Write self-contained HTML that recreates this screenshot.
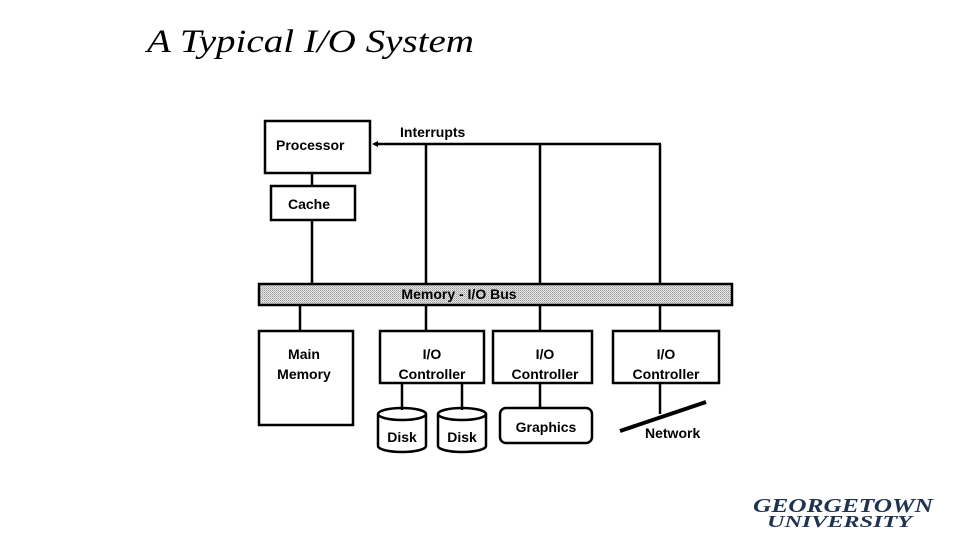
<!DOCTYPE html>
<html><head><style>
body{margin:0;width:960px;height:540px;background:#fff;overflow:hidden}
svg{display:block}
text{font-family:"Liberation Sans",sans-serif;font-size:14px;fill:#000}
</style></head><body>
<svg width="960" height="540" viewBox="0 0 960 540">
<defs><pattern id="p" width="2" height="2" patternUnits="userSpaceOnUse"><rect width="2" height="2" fill="#e6e6e6"/><rect width="1" height="1" fill="#9a9a9a"/><rect x="1" y="1" width="1" height="1" fill="#bdbdbd"/></pattern></defs>
<text x="147" y="52" textLength="327" lengthAdjust="spacingAndGlyphs" style="font-family:'Liberation Serif',serif;font-style:italic;font-size:33px">A Typical I/O System</text>
<g stroke="#000" stroke-width="2.5" fill="none">
<rect x="265" y="121" width="105" height="52" fill="#fff"/>
<rect x="271" y="186" width="84" height="34" fill="#fff"/>
<line x1="312" y1="173" x2="312" y2="186"/>
<line x1="312" y1="220" x2="312" y2="285"/>
<line x1="374" y1="144" x2="661" y2="144"/>
<line x1="426" y1="144" x2="426" y2="285"/>
<line x1="540" y1="144" x2="540" y2="285"/>
<line x1="660" y1="144" x2="660" y2="285"/>
<rect x="259" y="284" width="473" height="21" fill="url(#p)"/>
<line x1="300" y1="305" x2="300" y2="331"/>
<line x1="426" y1="305" x2="426" y2="331"/>
<line x1="540" y1="305" x2="540" y2="331"/>
<line x1="660" y1="305" x2="660" y2="331"/>
<rect x="259" y="331" width="94" height="94"/>
<rect x="380" y="331" width="104" height="52"/>
<rect x="493" y="331" width="99" height="52"/>
<rect x="613" y="331" width="106" height="52"/>
<line x1="402" y1="383" x2="402" y2="410"/>
<line x1="462" y1="383" x2="462" y2="410"/>
<line x1="540" y1="383" x2="540" y2="408"/>
<line x1="660" y1="383" x2="660" y2="414"/>
<path d="M378 414 v32 a24 6 0 0 0 48 0 v-32"/><ellipse cx="402" cy="414" rx="24" ry="6"/>
<path d="M438 414 v32 a24 6 0 0 0 48 0 v-32"/><ellipse cx="462" cy="414" rx="24" ry="6"/>
<rect x="500" y="408" width="92" height="35" rx="6"/>
<line x1="620" y1="431" x2="706" y2="402" stroke-width="4"/>
</g>
<path d="M372 144 l6 -3 v6z"/>
<g style="font-weight:bold;font-size:14.5px">
<text x="276" y="150">Processor</text>
<text x="400" y="137">Interrupts</text>
<text x="288" y="209">Cache</text>
<text x="459" y="299" text-anchor="middle">Memory - I/O Bus</text>
<text x="304" y="359" text-anchor="middle">Main</text>
<text x="304" y="379" text-anchor="middle">Memory</text>
<text x="432" y="359" text-anchor="middle">I/O</text>
<text x="432" y="379" text-anchor="middle">Controller</text>
<text x="545" y="359" text-anchor="middle">I/O</text>
<text x="545" y="379" text-anchor="middle">Controller</text>
<text x="666" y="359" text-anchor="middle">I/O</text>
<text x="666" y="379" text-anchor="middle">Controller</text>
<text x="402" y="442" text-anchor="middle">Disk</text>
<text x="462" y="442" text-anchor="middle">Disk</text>
<text x="546" y="432" text-anchor="middle">Graphics</text>
<text x="645" y="438">Network</text>
</g>
<text x="753" y="512" textLength="180" lengthAdjust="spacingAndGlyphs" style="font-family:'Liberation Serif',serif;font-style:italic;font-weight:bold;font-size:20px;fill:#1f3350">GEORGETOWN</text>
<text x="767" y="527" textLength="145" lengthAdjust="spacingAndGlyphs" style="font-family:'Liberation Serif',serif;font-style:italic;font-weight:bold;font-size:17px;fill:#1f3350">UNIVERSITY</text>
</svg>
</body></html>
